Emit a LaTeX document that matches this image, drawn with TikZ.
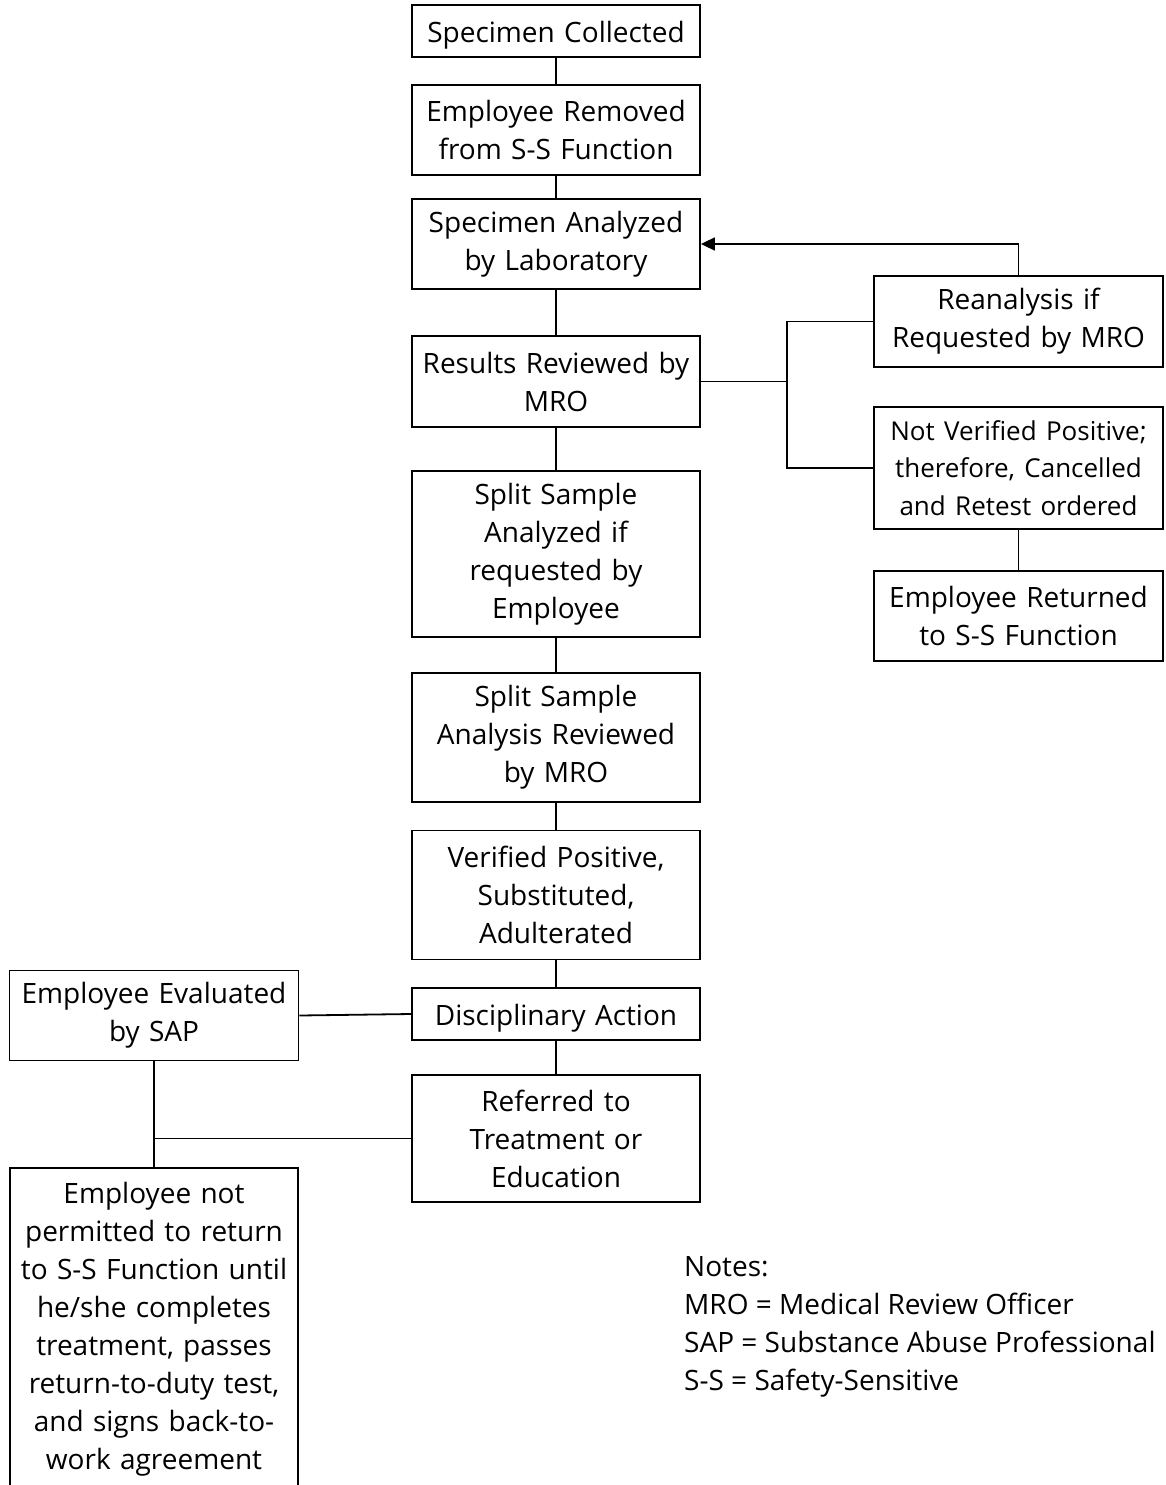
\documentclass[tikz,border=0pt]{standalone}
\usepackage{fontspec}
\setmainfont{Open Sans}
\usetikzlibrary{arrows.meta}
\newcommand{\lowtext}[1]{\raisebox{-4pt}[\height][\depth]{#1}}
\begin{document}
\begin{tikzpicture}[x=1pt,y=-1pt,
  box/.style={draw=black,line width=1.8pt,fill=white,align=center,inner sep=0pt,
    font=\fontsize{28}{38}\selectfont,text width=#1},
  box/.default=280pt,
  conn/.style={line width=1.8pt,draw=black},
  notes/.style={align=left,inner sep=0pt,font=\fontsize{28}{38}\selectfont}]
\useasboundingbox (0,0) rectangle (1166,1485);
% main column
\node[box,minimum width=288pt,minimum height=52pt] (sc) at (556,31) {\lowtext{Specimen Collected}};
\node[box,minimum width=288pt,minimum height=90pt] (er) at (556,130) {Employee Removed\\from S-S Function};
\node[box,minimum width=288pt,minimum height=90pt] (sa) at (556,244) {Specimen Analyzed\\by Laboratory};
\node[box,minimum width=288pt,minimum height=91pt] (rr) at (556,381.5) {Results Reviewed by\\MRO};
\node[box,minimum width=288pt,minimum height=166pt] (ss) at (556,554) {Split Sample\\Analyzed if\\requested by\\Employee};
\node[box,minimum width=288pt,minimum height=129pt] (sr) at (556,737.5) {Split Sample\\Analysis Reviewed\\by MRO};
\node[box,minimum width=288pt,minimum height=129pt] (vp) at (556,895) {Verified Positive,\\Substituted,\\Adulterated};
\node[box,minimum width=288pt,minimum height=52pt] (da) at (556,1014) {\lowtext{Disciplinary Action}};
\node[box,minimum width=288pt,minimum height=127pt] (rt) at (556,1138.5) {Referred to\\Treatment or\\Education};
% right column
\node[box,minimum width=289pt,minimum height=91pt] (re) at (1018.5,321.5) {Reanalysis if\\Requested by MRO};
\node[box,minimum width=289pt,minimum height=122pt] (nv) at (1018.5,468) {\fontsize{26}{37}\selectfont Not Verified Positive;\\therefore, Cancelled\\and Retest ordered};
\node[box,minimum width=289pt,minimum height=90pt] (ret) at (1018.5,616) {Employee Returned\\to S-S Function};
% left column
\node[box,minimum width=289pt,minimum height=90pt] (sap) at (154,1015.5) {Employee Evaluated\\by SAP};
\node[box,minimum width=288pt,minimum height=322pt] (np) at (154,1329) {Employee not\\permitted to return\\to S-S Function until\\he/she completes\\treatment, passes\\return-to-duty test,\\and signs back-to-\\work agreement};
% notes
\node[notes,anchor=north west] (nt) at (684,1256) {Notes:\\MRO = Medical Review Officer\\SAP = Substance Abuse Professional\\S-S = Safety-Sensitive};
% connectors
\draw[conn] (sc.south) -- (er.north);
\draw[conn] (er.south) -- (sa.north);
\draw[conn] (sa.south) -- (rr.north);
\draw[conn] (rr.south) -- (ss.north);
\draw[conn] (ss.south) -- (sr.north);
\draw[conn] (sr.south) -- (vp.north);
\draw[conn] (vp.south) -- (da.north);
\draw[conn] (da.south) -- (rt.north);
\coordinate (j) at (787,381.5);
\draw[conn] (rr.east) -- (j);
\draw[conn] (re.west) -| (j) |- (nv.west);
\draw[conn,-{Triangle[length=14pt,width=13pt]}] (re.north) |- (sa.east);
\draw[conn] (nv.south) -- (ret.north);
\draw[conn] (sap.east) -- (da.west);
\draw[conn] (sap.south) -- (np.north);
\draw[conn] (rt.west) -- (rt.west -| np.north);
\end{tikzpicture}
\end{document}
